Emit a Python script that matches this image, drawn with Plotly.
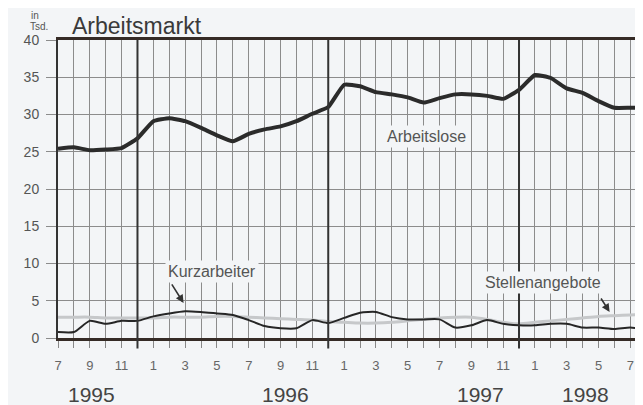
import plotly.graph_objects as go

# ---- data (thousand persons), monthly Jul 1995 .. Aug 1998 ----
month_index = list(range(38))
month_labels = ["7", "8", "9", "10", "11", "12", "1", "2", "3", "4", "5", "6",
                "7", "8", "9", "10", "11", "12", "1", "2", "3", "4", "5", "6",
                "7", "8", "9", "10", "11", "12", "1", "2", "3", "4", "5", "6",
                "7", "8"]
arbeitslose = [25.4, 25.6, 25.2, 25.3, 25.5, 26.8, 29.1, 29.5, 29.1, 28.2, 27.2, 26.4,
               27.4, 28.0, 28.4, 29.1, 30.1, 31.0, 34.0, 33.8, 33.0, 32.7, 32.3, 31.6,
               32.2, 32.7, 32.7, 32.5, 32.1, 33.3, 35.3, 34.9, 33.5, 32.9, 31.8, 30.9,
               30.9, 30.9]
kurzarbeiter = [0.8, 0.8, 2.3, 1.9, 2.3, 2.3, 2.9, 3.3, 3.6, 3.5, 3.3, 3.1,
                2.4, 1.6, 1.3, 1.3, 2.4, 2.0, 2.7, 3.4, 3.5, 2.8, 2.5, 2.5,
                2.5, 1.4, 1.7, 2.4, 1.9, 1.7, 1.7, 1.9, 1.9, 1.4, 1.4, 1.2,
                1.4, 1.1]
stellenangebote = [2.8, 2.8, 2.8, 2.7, 2.7, 2.7, 2.7, 2.8, 2.8, 2.8, 2.9, 2.9,
                   2.8, 2.7, 2.6, 2.5, 2.4, 2.2, 2.1, 2.0, 2.0, 2.1, 2.3, 2.5,
                   2.7, 2.8, 2.8, 2.5, 2.1, 1.9, 2.1, 2.3, 2.5, 2.7, 2.9, 3.0,
                   3.1, 3.2]
year_labels = ["1995", "1996", "1997", "1998"]
y_ticks = [0, 5, 10, 15, 20, 25, 30, 35, 40]

BG = "#f3f5f7"
FONT = "Liberation Sans, Arial, sans-serif"
GRID = "#8c8c8c"

tick_text = [lab if i % 2 == 0 else "" for i, lab in enumerate(month_labels)]
year_ends = [t for t, m in zip(month_index, month_labels) if m == "12"]

fig = go.Figure()
fig.add_trace(go.Scatter(x=month_index, y=stellenangebote, mode="lines",
                         line=dict(color="#c6c8ca", width=3, shape="spline", smoothing=0.6),
                         name="Stellenangebote"))
fig.add_trace(go.Scatter(x=month_index, y=kurzarbeiter, mode="lines",
                         line=dict(color="#262626", width=2, shape="spline", smoothing=0.6),
                         name="Kurzarbeiter"))
fig.add_trace(go.Scatter(x=month_index, y=arbeitslose, mode="lines",
                         line=dict(color="#2b2b2b", width=4, shape="spline", smoothing=0.4),
                         name="Arbeitslose"))

shapes = []
for t in year_ends:
    shapes.append(dict(type="line", xref="x", yref="y domain", x0=t, x1=t,
                       y0=-0.035, y1=1, line=dict(color="#333333", width=2), layer="above"))

box = dict(bgcolor=BG, borderpad=2, font=dict(family=FONT, size=16, color="#555555"),
           showarrow=False)
annotations = [
    dict(x=23.2, y=27.0, xref="x", yref="y", text="Arbeitslose", **box),
    dict(x=9.7, y=8.9, xref="x", yref="y", text="Kurzarbeiter", **box),
    dict(x=30.5, y=7.4, xref="x", yref="y", text="Stellenangebote", **box),
    dict(x=7.9, y=4.7, ax=7.1, ay=7.4, xref="x", yref="y", axref="x", ayref="y",
         text="", showarrow=True, arrowhead=2, arrowsize=1, arrowwidth=1.6,
         arrowcolor="#333333"),
    dict(x=34.7, y=3.5, ax=34.1, ay=5.5, xref="x", yref="y", axref="x", ayref="y",
         text="", showarrow=True, arrowhead=2, arrowsize=1, arrowwidth=1.6,
         arrowcolor="#333333"),
    dict(x=0.0205, y=1.047, xref="paper", yref="paper", text="Arbeitsmarkt",
         xanchor="left", yanchor="middle", showarrow=False,
         font=dict(family=FONT, size=23, color="#3a3a3a")),
    dict(x=-0.050, y=1.106, xref="paper", yref="paper", text="in",
         xanchor="left", yanchor="top", showarrow=False,
         font=dict(family=FONT, size=10, color="#555555")),
    dict(x=-0.052, y=1.045, xref="paper", yref="paper", text="Tsd.",
         xanchor="left", yanchor="middle", showarrow=False,
         font=dict(family=FONT, size=10, color="#555555")),
]
for lab, pos in zip(year_labels, [2.1, 14.3, 26.6, 33.2]):
    annotations.append(dict(x=pos, y=-0.191, xref="x", yref="paper", text=lab,
                            showarrow=False, yanchor="middle",
                            font=dict(family=FONT, size=21, color="#444444")))

# the page body has an 8px default margin, so the figure is 8px smaller
fig.update_layout(
    width=635, height=397,
    margin=dict(l=50, r=0, t=32, b=67),
    paper_bgcolor=BG, plot_bgcolor=BG,
    showlegend=False,
    shapes=shapes, annotations=annotations,
    xaxis=dict(range=[0, 36.8], tickmode="array", tickvals=month_index, ticktext=tick_text,
               ticks="outside", ticklen=7, tickcolor="#888888", tickwidth=1,
               ticklabelstandoff=7,
               showgrid=True, gridcolor=GRID, gridwidth=1, zeroline=False,
               showline=True, mirror=True, linecolor="#352b26", linewidth=2.5,
               tickfont=dict(family=FONT, size=13, color="#666666")),
    yaxis=dict(range=[0, 40], tickmode="array", tickvals=y_ticks,
               ticks="outside", ticklen=10, tickcolor=GRID, tickwidth=1,
               ticklabelstandoff=4,
               showgrid=True, gridcolor=GRID, gridwidth=1, zeroline=False,
               showline=True, linecolor="#333333", linewidth=2,
               tickfont=dict(family=FONT, size=14, color="#555555")),
)

fig.write_html("out.html")
